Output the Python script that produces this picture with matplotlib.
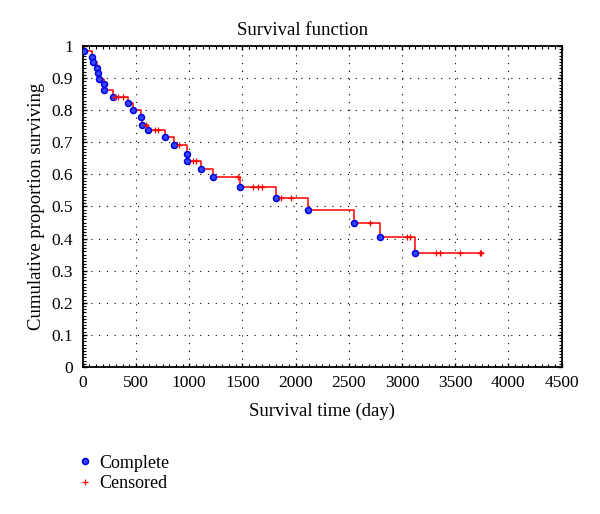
import matplotlib
matplotlib.use('Agg')
import matplotlib.pyplot as plt
from matplotlib.ticker import MultipleLocator, AutoMinorLocator
import numpy as np

# event (death) times and survival level after each step
event_times = [10, 91, 97, 129, 144, 150, 197, 200, 285, 426, 473, 545, 561, 614,
               771, 855, 975, 980, 1115, 1219, 1476, 1820, 2118, 2547, 2791, 3120]
event_surv = [0.983, 0.966, 0.949, 0.932, 0.915, 0.898, 0.881, 0.864, 0.842, 0.822,
              0.800, 0.778, 0.755, 0.737, 0.715, 0.692, 0.665, 0.641, 0.618, 0.591,
              0.562, 0.527, 0.489, 0.449, 0.405, 0.354]
# censored observation times
censored_times = [300, 329, 379, 592, 677, 708, 900, 1037, 1068, 1460, 1600, 1648,
                  1680, 1867, 1961, 2697, 3050, 3075, 3324, 3355, 3543, 3731, 3747]
end_time = 3760

plt.rcParams['font.family'] = ['Liberation Serif', 'DejaVu Serif']

fig = plt.figure(figsize=(6, 5.14), dpi=100)
ax = fig.add_axes([0.138, 0.286, 0.798, 0.6245])

# step curve
t_line = [0] + event_times + [end_time]
s_line = [1.0] + event_surv + [event_surv[-1]]
ax.step(t_line, s_line, where='post', color='red', lw=1.1, zorder=2)

# survival at censored times
et = np.array(event_times)
es = np.array(event_surv)
cens_surv = [es[et <= t][-1] if np.any(et <= t) else 1.0 for t in censored_times]

h1, = ax.plot(event_times, event_surv, 'o', ms=4.3, mfc='#3348ff', mec='#0000e0',
              mew=1.1, ls='none', zorder=3, label='Complete')
h2, = ax.plot(censored_times, cens_surv, '+', ms=4.5, color='red', mew=0.9,
              ls='none', zorder=3, label='Censored')

ax.set_xlim(0, 4500)
ax.set_ylim(0, 1)
ax.xaxis.set_major_locator(MultipleLocator(500))
ax.xaxis.set_minor_locator(AutoMinorLocator(8))
ax.set_yticks(np.arange(0, 1.01, 0.1))
ax.set_yticklabels(['0', '0.1', '0.2', '0.3', '0.4', '0.5', '0.6', '0.7', '0.8', '0.9', '1'])
ax.yaxis.set_minor_locator(AutoMinorLocator(10))
ax.tick_params(which='both', direction='in', top=True, right=True, labelsize=12.5)
ax.tick_params(axis='x', which='major', pad=6)
ax.tick_params(axis='y', which='major', pad=7)
ax.tick_params(which='major', length=3, width=1)
ax.tick_params(which='minor', length=2, width=0.8)
for sp in ax.spines.values():
    sp.set_linewidth(1.3)

ax.grid(True, which='major', color='black', ls=(0, (1, 6)), lw=0.8)

ax.set_xlabel('Survival time (day)', fontsize=13.5, labelpad=8)
ax.set_ylabel('Cumulative proportion surviving', fontsize=13.5, labelpad=5)
fig.text(0.505, 0.94, 'Survival function', ha='center', va='center', fontsize=13.5)

fig.legend(handles=[h1, h2], labels=['Complete', 'Censored'], loc='upper left',
           bbox_to_anchor=(0.1, 0.147), frameon=False, fontsize=13,
           handlelength=1.0, handletextpad=0.3, labelspacing=0.2)

fig.savefig('out.png', dpi=100)
